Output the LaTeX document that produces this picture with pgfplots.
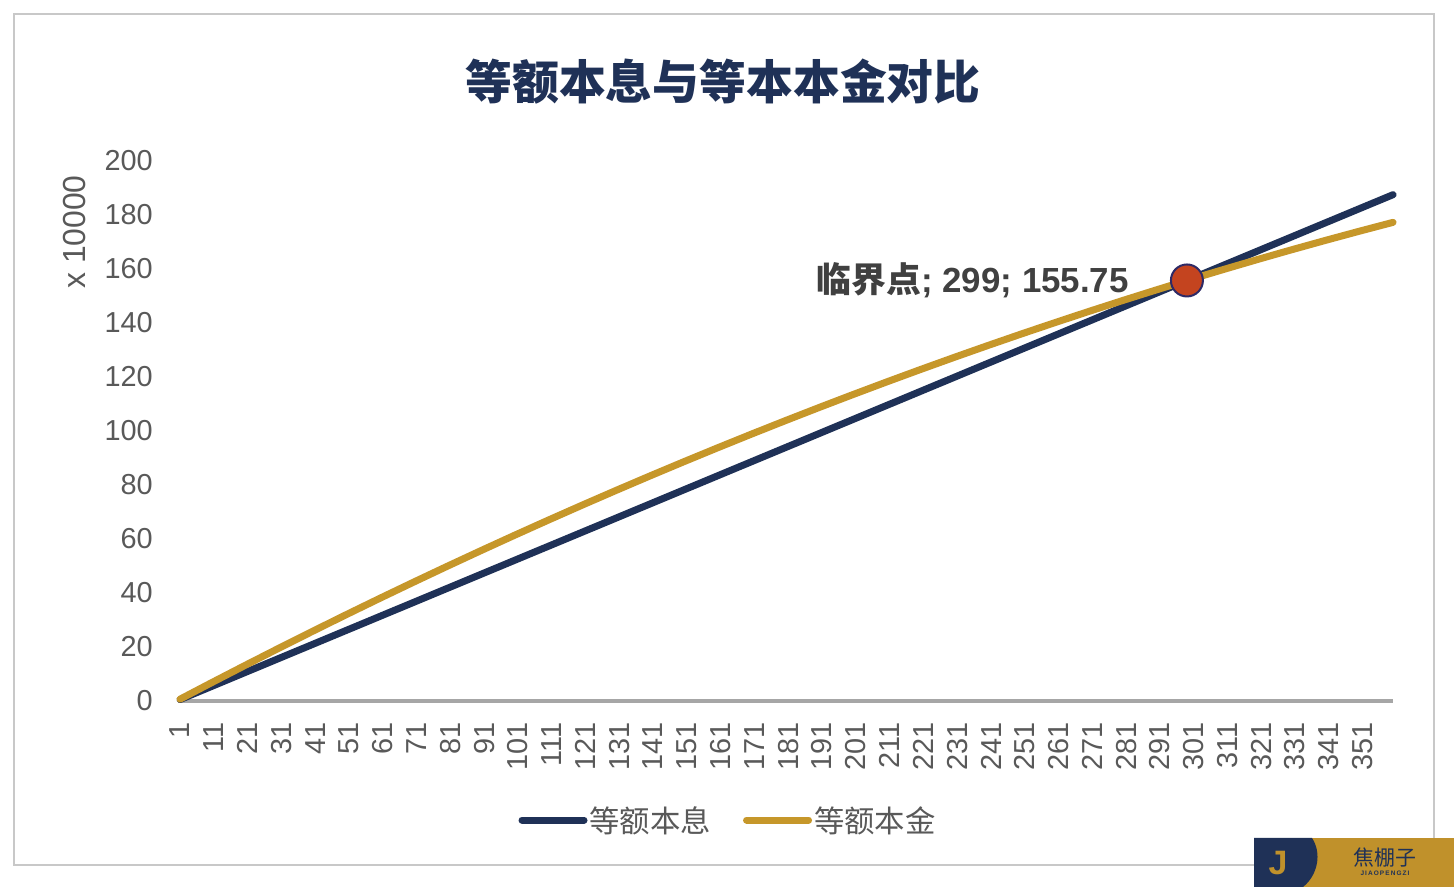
\documentclass[border=0pt]{standalone}
\usepackage{pgfplots}
\usepackage{pgfplotstable}
\pgfplotsset{compat=1.18}
\usepackage{fontspec}
\setmainfont{Liberation Sans}
\newfontfamily\cjk{Noto Sans CJK SC}
\definecolor{navy}{HTML}{1F3157}
\definecolor{gold}{HTML}{C6972A}
\definecolor{tickgray}{HTML}{595959}
\definecolor{axgray}{HTML}{A6A6A6}
\definecolor{mred}{HTML}{C4441F}
\definecolor{mborder}{HTML}{2E2A66}
\definecolor{anngray}{HTML}{404040}
\definecolor{framegray}{HTML}{C8C8C8}
\definecolor{logogold}{HTML}{C0912B}

% cumulative repayment (x 10000), month n
\pgfplotstableread{
n v
1 0.521
10 5.209
20 10.418
30 15.627
40 20.836
50 26.045
60 31.254
70 36.463
80 41.672
90 46.881
100 52.090
110 57.299
120 62.508
130 67.717
140 72.926
150 78.135
160 83.344
170 88.554
180 93.763
190 98.972
200 104.181
210 109.390
220 114.599
230 119.808
240 125.017
250 130.226
260 135.435
270 140.644
280 145.853
290 151.062
299 155.750
300 156.271
310 161.480
320 166.689
330 171.898
340 177.107
350 182.316
360 187.525
}\navytable

\pgfplotstableread{
n v
1 0.660
10 6.557
20 13.021
30 19.392
40 25.669
50 31.853
60 37.944
70 43.941
80 49.845
90 55.656
100 61.373
110 66.997
120 72.528
130 77.966
140 83.310
150 88.561
160 93.718
170 98.783
180 103.754
190 108.631
200 113.416
210 118.107
220 122.704
230 127.209
240 131.620
250 135.938
260 140.162
270 144.293
280 148.331
290 152.275
299 155.745
300 156.126
310 159.884
320 163.549
330 167.120
340 170.598
350 173.982
360 177.274
}\goldtable

\begin{document}
\begin{tikzpicture}
\path[use as bounding box] (0,0) rectangle (1454bp,887bp);
\fill[white] (0,0) rectangle (1454bp,887bp);
\draw[framegray, line width=1.5bp] (14bp,22bp) rectangle (1434bp,873bp);
\node[font=\cjk\bfseries\fontsize{47}{52}\selectfont, text=navy] at (723bp,805bp) {等额本息与等本本金对比};
\node[rotate=90, font=\fontsize{32}{36}\selectfont, text=tickgray] at (75bp,655bp) {x 10000};
\begin{axis}[
  at={(180bp,186bp)}, anchor=south west,
  scale only axis, width=1213bp, height=540bp,
  xmin=1, xmax=360, ymin=0, ymax=200,
  axis x line*=bottom, axis y line*=left,
  x axis line style={draw=axgray, line width=4bp, -},
  y axis line style={draw=none},
  xtick={1,11,...,351}, ytick={0,20,...,200},
  major tick length=0pt,
  /pgf/number format/assume math mode=true,
  tick label style={font=\fontsize{29}{34}\selectfont, text=tickgray, inner sep=0pt},
  yticklabel style={anchor=east},
  yticklabel shift={27bp},
  xticklabel style={rotate=90, anchor=east},
  xticklabel shift={21bp},
  clip=false,
  legend style={draw=none, fill=none, at={(axis description cs:0.4518,-0.2204)}, anchor=center,
    font=\cjk\fontsize{30.5}{34}\selectfont, text=tickgray,
    /tikz/every even column/.append style={column sep=30bp}},
  legend columns=2,
  legend image code/.code={\draw[#1, line width=7bp, line cap=round] (0bp,0bp) -- (62bp,0bp);},
]
\addplot[navy, line width=7bp, line cap=round, line join=round] table[x=n, y=v] {\navytable};
\addlegendentry{等额本息}
\addplot[gold, line width=7bp, line cap=round, line join=round] table[x=n, y=v] {\goldtable};
\addlegendentry{等额本金}
\addplot[only marks, mark=*, mark size=16bp, mark options={fill=mred, draw=mborder, line width=2bp}, forget plot]
  coordinates {(299,155.75)}
  node[left=58bp, inner sep=0pt, text=anngray, font=\fontsize{35}{38}\selectfont\bfseries] {{\cjk\bfseries 临界点}; 299; 155.75};
\end{axis}
% logo
\fill[logogold] (1254bp,0) rectangle (1454bp,49bp);
\fill[navy] (1254bp,0) -- (1254bp,49bp) -- (1312bp,49bp) .. controls (1322bp,34bp) and (1318bp,12bp) .. (1303bp,0) -- cycle;
\node[text=logogold, font=\bfseries\fontsize{34}{34}\selectfont] at (1278bp,24bp) {J};
\node[text=navy, font=\cjk\fontsize{21}{22}\selectfont] at (1385bp,29bp) {焦棚子};
\node[text=navy, font=\bfseries\fontsize{6.5}{7}\selectfont] at (1385bp,14bp) {J\,I\,A\,O\,P\,E\,N\,G\,Z\,I};
\end{tikzpicture}
\end{document}
